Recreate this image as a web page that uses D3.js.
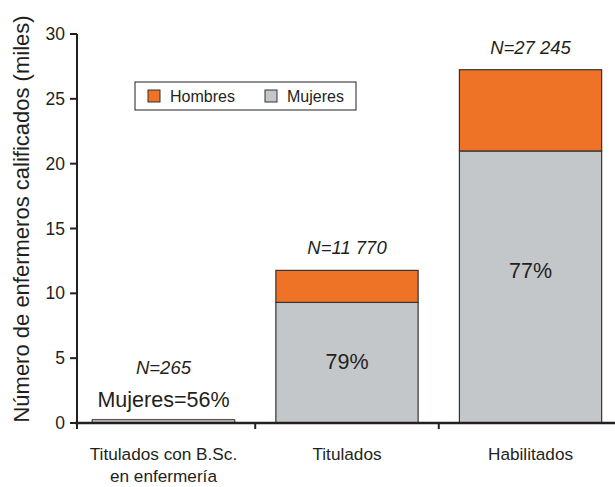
<!DOCTYPE html>
<html lang="es">
<head>
<meta charset="utf-8">
<title>Enfermeros calificados</title>
<script src="https://cdn.jsdelivr.net/npm/d3@7/dist/d3.min.js"></script>
<style>
  body { margin: 0; background: #fff; font-family: "Liberation Sans", Arial, sans-serif; }
  svg text { fill: #231f20; }
</style>
</head>
<body>
<svg width="615" height="487"></svg>
<script>
// datos (miles)
var categories = [["Titulados con B.Sc.", "en enfermería"], ["Titulados"], ["Habilitados"]];
var totals = [0.265, 11.77, 27.245];
var mujeres = [0.148, 9.30, 20.98];
var hombres = [0.117, 2.47, 6.265];
var nLabels = ["N=265", "N=11 770", "N=27 245"];
var pctLabels = ["Mujeres=56%", "79%", "77%"];
var yTicks = [0, 5, 10, 15, 20, 25, 30];

var orange = "#ee7326", grey = "#c4c7ca", ink = "#231f20";

var svg = d3.select("svg");

var y = d3.scaleLinear().domain([0, 30]).range([423, 34]);
var x = d3.scaleBand().domain(d3.range(3)).range([74, 620]).paddingInner(0.225).paddingOuter(0.1);

// y axis
svg.append("line").attr("x1", 77).attr("x2", 77).attr("y1", y(30)).attr("y2", y(0))
  .attr("stroke", ink).attr("stroke-width", 2);
yTicks.forEach(function(t) {
  svg.append("line").attr("x1", 70).attr("x2", 77).attr("y1", y(t)).attr("y2", y(t))
    .attr("stroke", ink).attr("stroke-width", 2);
  svg.append("text").attr("x", 65).attr("y", y(t) + 6).attr("text-anchor", "end")
    .style("font-size", "17.5px").text(t);
});

svg.append("text")
  .attr("transform", "translate(29," + 219 + ") rotate(-90)")
  .attr("text-anchor", "middle").style("font-size", "22px")
  .text("Número de enfermeros calificados (miles)");

// barras apiladas
var g = svg.append("g");
d3.range(3).forEach(function(i) {
  g.append("rect").attr("x", x(i)).attr("width", x.bandwidth())
    .attr("y", y(mujeres[i])).attr("height", y(0) - y(mujeres[i]))
    .attr("fill", grey).attr("stroke", "#333").attr("stroke-width", 1.2);
  if (i > 0) {
    g.append("rect").attr("x", x(i)).attr("width", x.bandwidth())
      .attr("y", y(totals[i])).attr("height", y(mujeres[i]) - y(totals[i]))
      .attr("fill", orange).attr("stroke", "#333").attr("stroke-width", 1.2);
  } else {
    // barra muy pequeña: solo contorno del total
    g.append("rect").attr("x", x(i)).attr("width", x.bandwidth())
      .attr("y", y(totals[i])).attr("height", y(0) - y(totals[i]))
      .attr("fill", "#c9c1bb").attr("stroke", "#555").attr("stroke-width", 1.2);
  }
});

// x axis
svg.append("line").attr("x1", 75).attr("x2", 615).attr("y1", y(0)).attr("y2", y(0))
  .attr("stroke", ink).attr("stroke-width", 2.5);
[0, 1, 2].forEach(function(i) {
  var bx = i === 0 ? 77 : (x(i - 1) + x.bandwidth() + x(i)) / 2;
  svg.append("line").attr("x1", bx).attr("x2", bx).attr("y1", y(0)).attr("y2", y(0) + 6)
    .attr("stroke", ink).attr("stroke-width", 2);
});

// etiquetas de categorías
categories.forEach(function(lines, i) {
  var cx = x(i) + x.bandwidth() / 2;
  lines.forEach(function(l, j) {
    svg.append("text").attr("x", cx).attr("y", 460 + j * 22).attr("text-anchor", "middle")
      .style("font-size", "17.2px").text(l);
  });
});

// N
nLabels.forEach(function(t, i) {
  svg.append("text").attr("x", x(i) + x.bandwidth() / 2).attr("y", y(totals[i]) - (i === 0 ? 46 : 16))
    .attr("text-anchor", "middle").style("font-size", "18.5px").style("font-style", "italic")
    .text(t);
});

// porcentajes
pctLabels.forEach(function(t, i) {
  var ty = i === 0 ? y(0) - 16 : y(mujeres[i] / 2) + 6;
  if (i === 2) ty = y(mujeres[i]) + 127;
  svg.append("text").attr("x", x(i) + x.bandwidth() / 2).attr("y", ty)
    .attr("text-anchor", "middle").style("font-size", "21.5px").text(t);
});

// leyenda
var lg = svg.append("g").attr("transform", "translate(135,82)");
lg.append("rect").attr("width", 221).attr("height", 28).attr("fill", "#fff")
  .attr("stroke", ink).attr("stroke-width", 1);
[["Hombres", orange, 13], ["Mujeres", grey, 130]].forEach(function(d) {
  lg.append("rect").attr("x", d[2]).attr("y", 8).attr("width", 12).attr("height", 12)
    .attr("fill", d[1]).attr("stroke", "#333").attr("stroke-width", 1);
  lg.append("text").attr("x", d[2] + 22).attr("y", 20).style("font-size", "16px").text(d[0]);
});
</script>
</body>
</html>
